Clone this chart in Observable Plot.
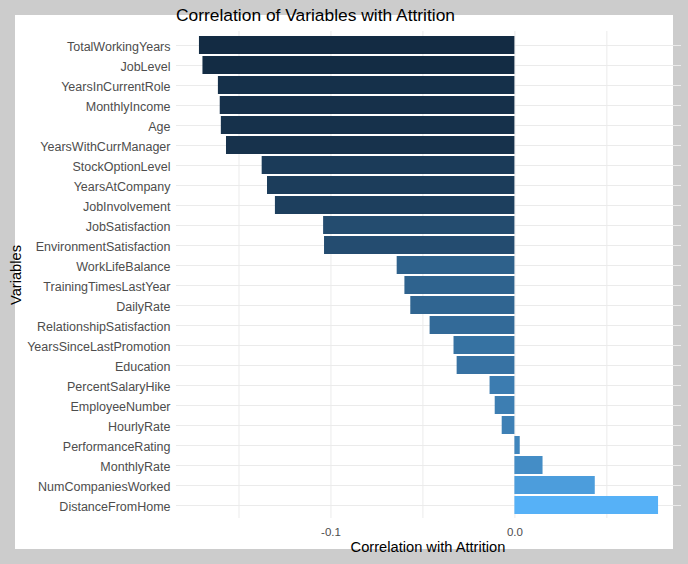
<!DOCTYPE html>
<html><head><meta charset="utf-8">
<script src="https://cdn.jsdelivr.net/npm/d3@7"></script>
<script src="https://cdn.jsdelivr.net/npm/@observablehq/plot@0.6"></script>
<style>
body{margin:0;background:#cccccc;font-family:"Liberation Sans",Arial,sans-serif;}
#wrap{position:relative;width:688px;height:564px;background:#cccccc;overflow:hidden}
#panel{position:absolute;left:15px;top:15px;width:658px;height:534px;background:#ffffff}
#chart{position:absolute;left:0;top:0}
.t{position:absolute;white-space:nowrap;color:#000;line-height:1;font-family:"Liberation Sans",Arial,sans-serif}
</style></head><body>
<div id="wrap">
  <div id="panel"></div>
  <div id="chart"></div>
  <div class="t" id="title" style="left:176px;top:7px;font-size:17.4px">Correlation of Variables with Attrition</div>
  <div class="t" id="xt" style="left:428px;top:540.3px;font-size:14.67px;transform:translateX(-50%)">Correlation with Attrition</div>
  <div class="t" id="yt" style="left:16px;top:274.5px;font-size:14.67px;transform:translate(-50%,-50%) rotate(-90deg)">Variables</div>
</div>
<script>
const variables = ["TotalWorkingYears","JobLevel","YearsInCurrentRole","MonthlyIncome","Age","YearsWithCurrManager","StockOptionLevel","YearsAtCompany","JobInvolvement","JobSatisfaction","EnvironmentSatisfaction","WorkLifeBalance","TrainingTimesLastYear","DailyRate","RelationshipSatisfaction","YearsSinceLastPromotion","Education","PercentSalaryHike","EmployeeNumber","HourlyRate","PerformanceRating","MonthlyRate","NumCompaniesWorked","DistanceFromHome"];
const correlations = [-0.1715,-0.1696,-0.1612,-0.1602,-0.1596,-0.1568,-0.1374,-0.1345,-0.1302,-0.1040,-0.1035,-0.0640,-0.0598,-0.0566,-0.0461,-0.0331,-0.0314,-0.0135,-0.0107,-0.0069,0.0029,0.0153,0.0437,0.0781];
const xTicks = [-0.1, 0.0];
const gridTicks = [-0.15, -0.1, -0.05, 0.0, 0.05];

const rows = variables.map((name, i) => ({name, value: correlations[i]}));
const ext = d3.extent([0, ...correlations]);
const pad = (ext[1] - ext[0]) * 0.05;
const xDomain = [ext[0] - pad, ext[1] + pad];

const chart = Plot.plot({
  width: 688, height: 564,
  marginLeft: 176, marginRight: 7, marginTop: 31, marginBottom: 46,
  style: {background: "transparent", fontFamily: "'Liberation Sans', Arial, sans-serif", color: "#4D4D4D", overflow: "visible"},
  x: {domain: xDomain, label: null},
  y: {domain: variables, paddingInner: 0.1, paddingOuter: 0.15, label: null},
  color: {type: "linear", range: ["#132B43", "#56B1F7"], interpolate: "lab"},
  marks: [
    Plot.gridX(gridTicks, {stroke: "#EBEBEB", strokeOpacity: 1, strokeWidth: 1}),
    Plot.gridY(variables, {stroke: "#EBEBEB", strokeOpacity: 1, strokeWidth: 1}),
    Plot.barX(rows, {x: "value", y: "name", fill: "value"}),
    Plot.axisX(xTicks, {tickSize: 0, tickPadding: 9.5, tickFormat: d => d.toFixed(1), label: null, fontSize: 11.5, fill: "#4D4D4D"}),
    Plot.axisY({tickSize: 0, tickPadding: 6, label: null, fontSize: 12.5, fill: "#4D4D4D", dy: 1.5})
  ]
});
document.getElementById("chart").appendChild(chart);
</script>
</body></html>
